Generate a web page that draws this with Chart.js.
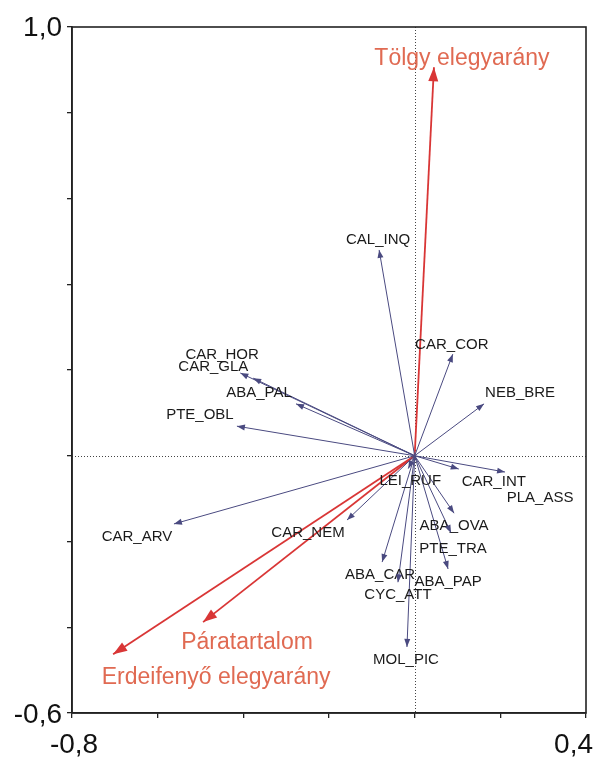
<!DOCTYPE html>
<html>
<head>
<meta charset="utf-8">
<title>RDA ordináció</title>
<script src="https://cdn.jsdelivr.net/npm/chart.js@4"></script>
<style>
    html, body { margin: 0; padding: 0; background: #fff; }
    #ordChart { display: block; }
</style>
</head>
<body>
<canvas id="ordChart" width="593" height="757"></canvas>
<script>
// fajok (kék nyilak)
const speciesNames = ['CAL_INQ', 'CAR_HOR', 'CAR_GLA', 'ABA_PAL', 'PTE_OBL', 'CAR_COR', 'NEB_BRE', 'LEI_RUF', 'CAR_INT',
    'PLA_ASS', 'ABA_OVA', 'PTE_TRA', 'ABA_CAR', 'ABA_PAP', 'CYC_ATT', 'MOL_PIC', 'CAR_ARV', 'CAR_NEM'];
const speciesX = [-0.083, -0.377, -0.407, -0.277, -0.415, 0.089, 0.162, -0.015, 0.103,
    0.211, 0.092, 0.085, -0.076, 0.078, -0.039, -0.018, -0.562, -0.158];
const speciesY = [0.480, 0.181, 0.193, 0.121, 0.069, 0.237, 0.121, -0.030, -0.031,
    -0.038, -0.134, -0.180, -0.248, -0.264, -0.295, -0.446, -0.159, -0.150];

// környezeti változók (piros nyilak)
const envNames = ['Tölgy elegyarány', 'Páratartalom', 'Erdeifenyő elegyarány'];
const envX = [0.045, -0.494, -0.704];
const envY = [0.906, -0.388, -0.463];

// tengelyek
const xTickLabels = ['-0,8', '0,4'];
const yTickLabels = ['1,0', '-0,6'];

// feliratok eltolása a nyílhegytől (px)
const speciesLabelOffset = {
    CAL_INQ: [-1, -10], CAR_HOR: [-31, -23], CAR_GLA: [-27, -6], ABA_PAL: [-37, -11], PTE_OBL: [-37, -11],
    CAR_COR: [-1, -9], NEB_BRE: [36, -11], LEI_RUF: [2, 12], CAR_INT: [35, 13], PLA_ASS: [35, 26],
    ABA_OVA: [0, 13], PTE_TRA: [2, 16], ABA_CAR: [-2, 13], ABA_PAP: [0, 13], CYC_ATT: [0, 13],
    MOL_PIC: [-1, 13], CAR_ARV: [-37, 13], CAR_NEM: [-39, 13]
};
const envLabelOffset = [[28, -9], [44, 21], [103, 23]];

const BLUE = '#4a4a80';
const RED = '#d93636';
const RED_TEXT = '#e06a52';
const AXIS = '#222';

const datasets = [];
speciesNames.forEach((name, i) => {
    datasets.push({
        label: name,
        data: [{ x: 0, y: 0 }, { x: speciesX[i], y: speciesY[i] }],
        borderColor: BLUE,
        borderWidth: 1,
        kind: 'species',
        offset: speciesLabelOffset[name]
    });
});
envNames.forEach((name, i) => {
    datasets.push({
        label: name,
        data: [{ x: 0, y: 0 }, { x: envX[i], y: envY[i] }],
        borderColor: RED,
        borderWidth: 1.8,
        kind: 'env',
        offset: envLabelOffset[i]
    });
});

// szaggatott nulla vonalak
const zeroLines = {
    id: 'zeroLines',
    beforeDatasetsDraw(chart) {
        const { ctx, chartArea: a, scales: { x, y } } = chart;
        const x0 = Math.round(x.getPixelForValue(0)) + 0.5;
        const y0 = Math.round(y.getPixelForValue(0)) + 0.5;
        ctx.save();
        ctx.strokeStyle = '#444';
        ctx.lineWidth = 1;
        ctx.setLineDash([1, 2]);
        ctx.beginPath();
        ctx.moveTo(x0, a.top);
        ctx.lineTo(x0, a.bottom);
        ctx.moveTo(a.left, y0);
        ctx.lineTo(a.right, y0);
        ctx.stroke();
        ctx.restore();
    }
};

// nyílhegyek + feliratok
const arrowsAndLabels = {
    id: 'arrowsAndLabels',
    afterDatasetsDraw(chart) {
        const ctx = chart.ctx;
        chart.data.datasets.forEach((ds, i) => {
            const pts = chart.getDatasetMeta(i).data;
            const p0 = pts[0], p1 = pts[1];
            const ang = Math.atan2(p1.y - p0.y, p1.x - p0.x);
            const big = ds.kind === 'env';
            const len = big ? 14 : 8;
            const half = big ? 5 : 3;
            ctx.save();
            ctx.fillStyle = ds.borderColor;
            ctx.translate(p1.x, p1.y);
            ctx.rotate(ang);
            ctx.beginPath();
            ctx.moveTo(0, 0);
            ctx.lineTo(-len, -half);
            ctx.lineTo(-len, half);
            ctx.closePath();
            ctx.fill();
            ctx.restore();

            ctx.save();
            ctx.textAlign = 'center';
            ctx.textBaseline = 'middle';
            if (big) {
                ctx.font = '23px "Liberation Sans", Arial, sans-serif';
                ctx.fillStyle = RED_TEXT;
            } else {
                ctx.font = '15px "Liberation Sans", Arial, sans-serif';
                ctx.fillStyle = '#1a1a1a';
            }
            ctx.fillText(ds.label, p1.x + ds.offset[0], p1.y + ds.offset[1]);
            ctx.restore();
        });
    },
    afterDraw(chart) {
        const { ctx, chartArea: a, scales: { x, y } } = chart;
        ctx.save();
        // keret
        ctx.strokeStyle = AXIS;
        ctx.lineWidth = 1.6;
        ctx.strokeRect(a.left, a.top, a.right - a.left, a.bottom - a.top);
        // szélső tengelyfeliratok
        ctx.fillStyle = '#111';
        ctx.font = '28px "Liberation Sans", Arial, sans-serif';
        ctx.textBaseline = 'middle';
        ctx.textAlign = 'right';
        ctx.fillText(yTickLabels[0], a.left - 10, y.getPixelForValue(y.max) + 1);
        ctx.fillText(yTickLabels[1], a.left - 10, y.getPixelForValue(y.min) + 2);
        ctx.textAlign = 'center';
        ctx.fillText(xTickLabels[0], x.getPixelForValue(x.min) + 2, a.bottom + 32);
        ctx.textAlign = 'right';
        ctx.fillText(xTickLabels[1], 593, a.bottom + 32);
        ctx.restore();
    }
};

new Chart(document.getElementById('ordChart'), {
    type: 'scatter',
    data: { datasets },
    options: {
        responsive: false,
        animation: false,
        showLine: true,
        elements: { point: { radius: 0, hoverRadius: 0 }, line: { tension: 0 } },
        layout: { padding: { top: 27, right: 7, left: 0, bottom: 0 } },
        plugins: { legend: { display: false }, tooltip: { enabled: false } },
        scales: {
            x: {
                type: 'linear',
                min: -0.8,
                max: 0.4,
                ticks: { stepSize: 0.2, display: false },
                grid: { drawOnChartArea: false, drawTicks: true, tickLength: 5, color: AXIS, lineWidth: 1.3 },
                border: { color: AXIS, width: 1.6 },
                afterFit: s => { s.height = 44; }
            },
            y: {
                type: 'linear',
                min: -0.6,
                max: 1.0,
                ticks: { stepSize: 0.2, display: false },
                grid: { drawOnChartArea: false, drawTicks: true, tickLength: 5, color: AXIS, lineWidth: 1.3 },
                border: { color: AXIS, width: 1.6 },
                afterFit: s => { s.width = 72; }
            }
        }
    },
    plugins: [zeroLines, arrowsAndLabels]
});
</script>
</body>
</html>
